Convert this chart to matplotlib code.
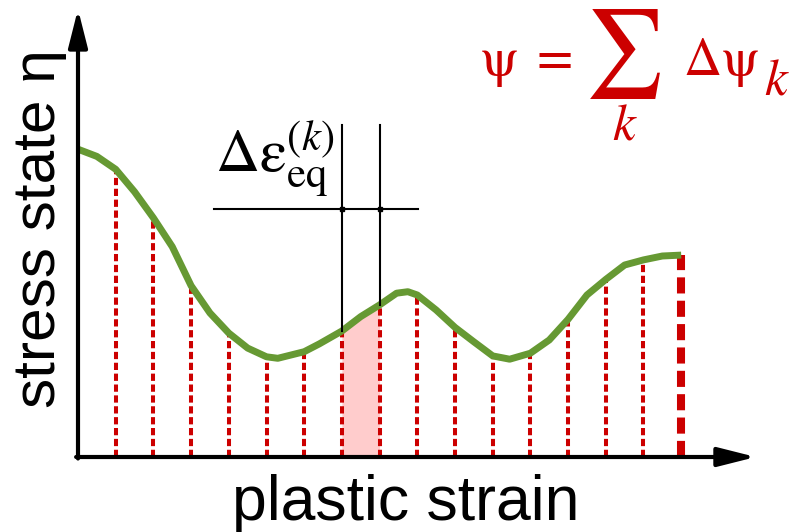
import matplotlib.pyplot as plt

plt.rcParams['mathtext.fontset'] = 'stix'
plt.rcParams['font.family'] = ['Liberation Sans', 'DejaVu Sans']

# stress path
strain = [0, 0.5, 1, 1.5, 2, 2.5, 3, 3.5, 4, 4.5, 5, 5.3, 6, 6.4, 7, 7.5, 8,
          8.45, 8.75, 9, 9.5, 10, 10.5, 11, 11.45, 12, 12.5, 13, 13.5, 14, 14.5,
          15, 15.5, 16]
stress = [10.26, 10.02, 9.59, 8.84, 7.97, 7.01, 5.71, 4.80, 4.13, 3.63, 3.34,
          3.29, 3.51, 3.77, 4.2, 4.68, 5.07, 5.46, 5.51, 5.4, 4.9, 4.32, 3.84,
          3.37, 3.26, 3.46, 3.9, 4.59, 5.4, 5.92, 6.4, 6.57, 6.7, 6.73]
steps = list(range(1, 17))
step_stress = [stress[strain.index(k)] for k in steps]
k_sel = 7  # highlighted increment between 7 and 8
eps_level = 8.27
eps_top = 11.07
eps_left, eps_right = 3.6, 9.02

green = '#669933'
red = '#cc0000'

fig = plt.figure(figsize=(7.91, 5.32), dpi=100)
ax = fig.add_axes([78 / 791, 75 / 532, 678.6 / 791, 444 / 532])
ax.set_xlim(0, 18)
ax.set_ylim(0, 14.8)
ax.axis('off')

# highlighted increment
i0, i1 = strain.index(k_sel), strain.index(k_sel + 1)
ax.fill_between(strain[i0:i1 + 1], 0, stress[i0:i1 + 1], color='#ffcccc', lw=0, zorder=1)

# red dashed increments
for k, s in zip(steps, step_stress):
    if k == steps[-1]:
        ax.plot([k, k], [0, s], color=red, lw=5.8, ls=(0, (2.0, 0.9)), zorder=2)
    else:
        ax.plot([k, k], [0, s], color=red, lw=2.9, ls=(0, (1.8, 0.9)), zorder=2)

# stress path
ax.plot(strain, stress, color=green, lw=5, solid_capstyle='butt',
        solid_joinstyle='round', zorder=3)

# strain increment markers
for k in (k_sel, k_sel + 1):
    ax.plot([k, k], [stress[strain.index(k)], eps_top], color='black', lw=1.5, zorder=4)
ax.plot([eps_left, eps_right], [eps_level, eps_level], color='black', lw=1.5, zorder=4)
ax.plot([k_sel, k_sel + 1], [eps_level, eps_level], 's', color='black', ms=3.5, zorder=5)

# axes arrows
arrow = dict(arrowstyle='-|>,head_length=2.3,head_width=0.58', mutation_scale=10,
             lw=3, color='black', shrinkA=0, shrinkB=0)
ax.annotate('', xy=(17.98, 0), xytext=(-0.05, 0), arrowprops=arrow, annotation_clip=False)
ax.annotate('', xy=(0, 14.93), xytext=(0, -0.05), arrowprops=arrow, annotation_clip=False)

ax.text(8.7, -2.1, 'plastic strain', fontsize=45, ha='center', va='baseline')
ax.text(-0.62, 7.6, 'stress state η', fontsize=43.5, rotation=90,
        rotation_mode='anchor', ha='center', va='baseline')

ax.text(3.63, 9.5, r'$\Delta\mathrm{\varepsilon}_{\mathrm{eq}}^{(k)}$', fontsize=44,
        ha='left', va='baseline')

# formula
ax.text(10.66, 12.73, r'$\mathrm{\psi}\ =$', fontsize=38, color=red, ha='left', va='baseline')
ax.text(14.43, 13.42, r'$\sum$', fontsize=63, color=red, ha='center', va='center')
ax.text(14.51, 10.6, r'$k$', fontsize=37, color=red, ha='center', va='baseline')
ax.text(16.05, 12.73, r'$\Delta\mathrm{\psi}$', fontsize=38, color=red, ha='left', va='baseline')
ax.text(18.2, 12.07, r'$k$', fontsize=37, color=red, ha='left', va='baseline')

fig.savefig('out.png', dpi=100)
